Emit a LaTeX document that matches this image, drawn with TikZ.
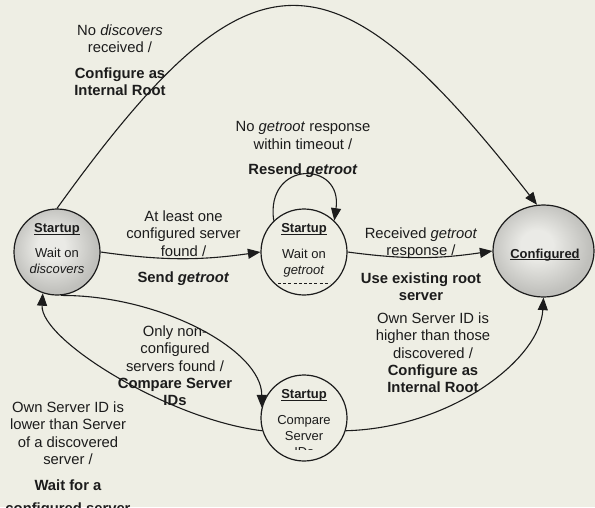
\documentclass[tikz,border=0pt]{standalone}
\usepackage{fontspec}
\setmainfont{Liberation Sans}
\usetikzlibrary{arrows.meta,shapes.geometric}

\definecolor{paper}{RGB}{238,238,228}
\definecolor{ink}{RGB}{28,28,28}
\definecolor{shadeIn}{RGB}{234,234,230}
\definecolor{shadeOut}{RGB}{192,192,188}

% soft radial fill for the shaded states
\pgfdeclareradialshading{stateshade}{\pgfpoint{-4bp}{4bp}}{%
  color(0bp)=(shadeIn); color(8bp)=(shadeIn);
  color(25bp)=(shadeOut); color(50bp)=(shadeOut)}

% underline sitting close to the baseline
\newsavebox\ulbox
\newcommand{\uln}[1]{\sbox\ulbox{#1}\rlap{\rule[-1.8pt]{\wd\ulbox}{0.8pt}}\usebox\ulbox}

\tikzset{
  stateshape/.style={circle, draw=ink, line width=1.2pt, minimum size=86pt, inner sep=0pt},
  arr/.style={draw=ink, line width=1.1pt, -{Triangle[length=12.5pt,width=10pt]}},
  lbl/.style={align=center, inner sep=0pt, anchor=north, text=ink,
              font=\fontsize{14.8}{17.4}\selectfont},
  stxt/.style={align=center, inner sep=0pt, anchor=north, text=ink,
               font=\fontsize{13}{16}\selectfont},
}

\begin{document}
\begin{tikzpicture}[x=1pt,y=-1pt]
  \path[use as bounding box, fill=paper] (0,0) rectangle (595,507);
  \clip (0,0) rectangle (595,507);

  % states
  \node[stateshape, shading=stateshade] (disc) at (57,252) {};
  \node[stateshape] (wait) at (304,252) {};
  \node[stateshape] (cmp)  at (304,418) {};
  \node[ellipse, draw=ink, line width=1.2pt, minimum width=101pt,
        minimum height=92pt, inner sep=0pt, shading=stateshade] (conf) at (543.5,251) {};

  % state texts
  \node[stxt] (disctxt) at (57,223.5)
    {\uln{\textbf{Startup}}\\[9pt]Wait on\\\textit{discovers}};
  \node[stxt] (waittxt) at (304,223.5)
    {\uln{\textbf{Startup}}\\[10pt]Wait on\\\textit{getroot}};
  \draw[ink, line width=0.8pt, dash pattern=on 3pt off 2.2pt] (278,283) -- (330,283);
  \node[stxt] (conftxt) at (545,248.5) {\uln{\textbf{Configured}}};
  \begin{scope}
    \clip (250,380) rectangle (360,449.5);
    \node[stxt] (cmptxt) at (304,389.5)
      {\uln{\textbf{Startup}}\\[10pt]Compare\\Server\\IDs};
  \end{scope}

  % transitions
  \draw[arr] (disc.north) .. controls (250,-60) and (330,-60) .. (conf.98);
  \draw[arr] (disc.east) to[bend right=8] (wait.west);
  \draw[arr] (wait.east) to[bend right=8] (conf.west);
  \draw[arr] (wait.134) .. controls (265,160) and (343,160) .. (wait.46);
  \draw[arr] (disc.-85) .. controls (160,295) and (262,350) .. (cmp.166);
  \draw[arr] (cmp.197) .. controls (170,420) and (40,340) .. (disc.-109);
  \draw[arr] (cmp.-17) .. controls (450,428) and (540,360) .. (conf.south);

  % transition labels
  \node[lbl] (lnodisc) at (120,24.3)
    {No \textit{discovers}\\received /\\[8.5pt]\textbf{Configure as}\\\textbf{Internal Root}};
  \node[lbl] (lresend) at (303,121.3)
    {No \textit{getroot} response\\within timeout /\\[8pt]\textbf{Resend \textit{getroot}}};
  \node[lbl] (lsend) at (183.5,210.3)
    {At least one\\configured server\\found /\\[9.5pt]\textbf{Send \textit{getroot}}};
  \node[lbl] (lrecv) at (421,227.3)
    {Received \textit{getroot}\\response /\\[10pt]\textbf{Use existing root}\\\textbf{server}};
  \node[lbl] (lhigher) at (433,312.3)
    {Own Server ID is\\higher than those\\discovered /\\\textbf{Configure as}\\\textbf{Internal Root}};
  \node[lbl] (lonly) at (175,325.3)
    {Only non\mbox{-}\\configured\\servers found /\\\textbf{Compare Server}\\\textbf{IDs}};
  \node[lbl] (llower) at (68,401.3)
    {Own Server ID is\\lower than Server\\of a discovered\\server /\\[9pt]\textbf{Wait for a}\\[5pt]\textbf{configured server}};
\end{tikzpicture}
\end{document}
